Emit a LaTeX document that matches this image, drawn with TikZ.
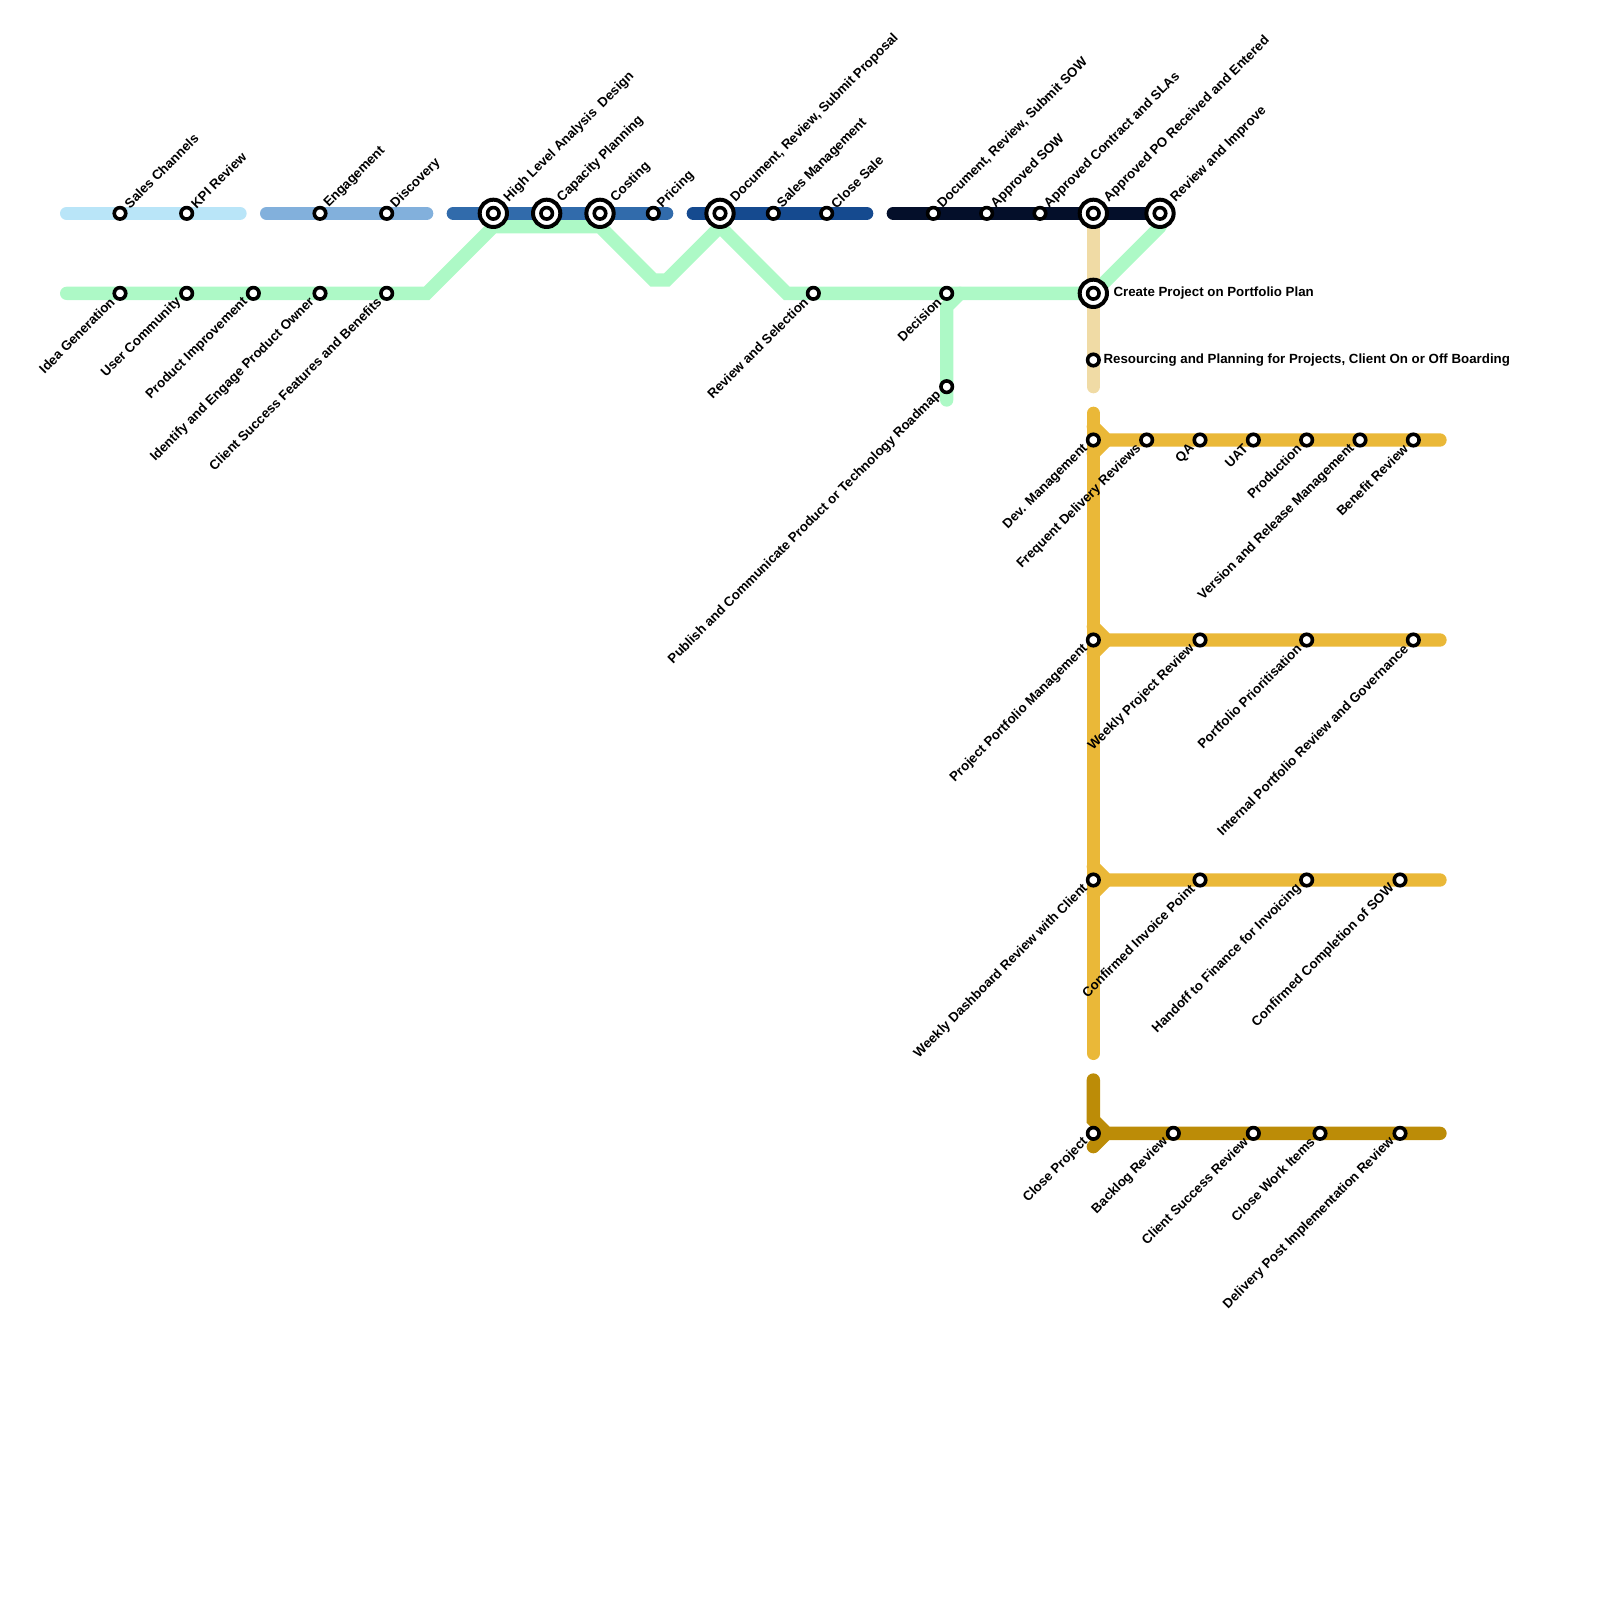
\documentclass[tikz,border=0pt]{standalone}
\usepackage{fontspec}
\setmainfont{Liberation Sans}
\definecolor{SkyLine}{HTML}{B9E5F8}
\definecolor{SteelLine}{HTML}{82B0DC}
\definecolor{MidBlue}{HTML}{316BAB}
\definecolor{DeepBlue}{HTML}{154A8F}
\definecolor{NightLine}{HTML}{040F2A}
\definecolor{MintLine}{HTML}{ADF9C6}
\definecolor{SandLine}{HTML}{F0DBA5}
\definecolor{GoldLine}{HTML}{EAB838}
\definecolor{OchreLine}{HTML}{BC8C07}
\begin{document}
\begin{tikzpicture}[x=13.3333pt,y=-13.3333pt,line join=miter,font=\fontsize{13.3}{15}\selectfont\bfseries]
\tikzstyle{track}=[line width=13.3333pt,line cap=round]
\tikzstyle{stop}=[circle,draw=black,fill=white,line width=3.6pt,inner sep=0pt,minimum size=11.5pt]
\tikzstyle{hub}=[circle,draw=black,fill=white,line width=4pt,inner sep=0pt,minimum size=27.3pt]
\tikzstyle{upl}=[inner sep=0pt,anchor=west,xshift=6.5pt,yshift=7.5pt,rotate=45]
\tikzstyle{hubl}=[inner sep=0pt,anchor=west,xshift=13pt,yshift=13.5pt,rotate=45]
\tikzstyle{downl}=[inner sep=0pt,anchor=east,xshift=-7.5pt,yshift=-6.5pt,rotate=45]
\useasboundingbox (0,0) rectangle (120,120);
% line ends and bends
\coordinate (s0) at (5,16); \coordinate (s1) at (18,16);
\coordinate (t0) at (20,16); \coordinate (t1) at (32,16);
\coordinate (m0) at (34,16); \coordinate (m1) at (50,16);
\coordinate (d0) at (52,16); \coordinate (d1) at (65,16);
\coordinate (n0) at (67,16); \coordinate (n1) at (87,16);
\coordinate (g0) at (5,22); \coordinate (g1) at (32,22);
\coordinate (g2) at (37,17); \coordinate (g3) at (45,17);
\coordinate (g4) at (49,21); \coordinate (g5) at (50,21);
\coordinate (g6) at (54,17); \coordinate (g7) at (59,22);
\coordinate (g8) at (82,22); \coordinate (g9) at (87,17);
\coordinate (b0) at (72,22); \coordinate (b1) at (71,23); \coordinate (b2) at (71,30);
\coordinate (a0) at (82,16); \coordinate (a1) at (82,29);
\coordinate (c0) at (82,31); \coordinate (c1) at (82,79);
\coordinate (r0) at (82,32); \coordinate (r1) at (83,33); \coordinate (r2) at (108,33); \coordinate (r3) at (82,34);
\coordinate (p0) at (82,47); \coordinate (p1) at (83,48); \coordinate (p2) at (108,48); \coordinate (p3) at (82,49);
\coordinate (w0) at (82,65); \coordinate (w1) at (83,66); \coordinate (w2) at (108,66); \coordinate (w3) at (82,67);
\coordinate (o0) at (82,81); \coordinate (o1) at (82,84); \coordinate (o2) at (83,85); \coordinate (o3) at (108,85); \coordinate (o4) at (82,86);
% lines
\draw[track,SkyLine] (s0)--(s1);
\draw[track,SteelLine] (t0)--(t1);
\draw[track,MidBlue] (m0)--(m1);
\draw[track,DeepBlue] (d0)--(d1);
\draw[track,MintLine] (g0)--(g1)--(g2)--(g3)--(g4)--(g5)--(g6)--(g7)--(g8)--(g9);
\draw[track,MintLine] (b0)--(b1)--(b2);
\draw[track,SandLine] (a0)--(a1);
\draw[track,NightLine] (n0)--(n1);
\draw[track,GoldLine] (c0)--(c1);
\draw[track,GoldLine] (r0)--(r1)--(r2);
\draw[track,GoldLine] (r3)--(r1);
\draw[track,GoldLine] (p0)--(p1)--(p2);
\draw[track,GoldLine] (p3)--(p1);
\draw[track,GoldLine] (w0)--(w1)--(w2);
\draw[track,GoldLine] (w3)--(w1);
\draw[track,OchreLine] (o0)--(o1)--(o2)--(o3);
\draw[track,OchreLine] (o4)--(o2);
% top row
\node[stop] (sales) at (9,16) {};
\node[upl] (lsales) at (sales) {Sales Channels};
\node[stop] (kpi) at (14,16) {};
\node[upl] (lkpi) at (kpi) {KPI Review};
\node[stop] (engage) at (24,16) {};
\node[upl] (lengage) at (engage) {Engagement};
\node[stop] (discov) at (29,16) {};
\node[upl] (ldiscov) at (discov) {Discovery};
\node[hub] (design) at (37,16) {};
\node[stop] (design1) at (design) {};
\node[hubl] (ldesign) at (design) {High Level Analysis~ Design};
\node[hub] (capac) at (41,16) {};
\node[stop] (capac1) at (capac) {};
\node[hubl] (lcapac) at (capac) {Capacity Planning};
\node[hub] (cost) at (45,16) {};
\node[stop] (cost1) at (cost) {};
\node[hubl] (lcost) at (cost) {Costing};
\node[stop] (price) at (49,16) {};
\node[upl] (lprice) at (price) {Pricing};
\node[hub] (propos) at (54,16) {};
\node[stop] (propos1) at (propos) {};
\node[hubl] (lpropos) at (propos) {Document, Review, Submit Proposal};
\node[stop] (smgmt) at (58,16) {};
\node[upl] (lsmgmt) at (smgmt) {Sales Management};
\node[stop] (close) at (62,16) {};
\node[upl] (lclose) at (close) {Close Sale};
\node[stop] (sow) at (70,16) {};
\node[upl] (lsow) at (sow) {Document, Review, Submit SOW};
\node[stop] (apsow) at (74,16) {};
\node[upl] (lapsow) at (apsow) {Approved SOW};
\node[stop] (sla) at (78,16) {};
\node[upl] (lsla) at (sla) {Approved Contract and SLAs};
\node[hub] (po) at (82,16) {};
\node[stop] (po1) at (po) {};
\node[hubl] (lpo) at (po) {Approved PO Received and Entered};
\node[hub] (improve) at (87,16) {};
\node[stop] (improve1) at (improve) {};
\node[hubl] (limprove) at (improve) {Review and Improve};
% green row
\node[stop] (idea) at (9,22) {};
\node[downl] (lidea) at (idea) {Idea Generation};
\node[stop] (user) at (14,22) {};
\node[downl] (luser) at (user) {User Community};
\node[stop] (prodi) at (19,22) {};
\node[downl] (lprodi) at (prodi) {Product Improvement};
\node[stop] (owner) at (24,22) {};
\node[downl] (lowner) at (owner) {Identify and Engage Product Owner};
\node[stop] (client) at (29,22) {};
\node[downl] (lclient) at (client) {Client Success Features and Benefits};
\node[stop] (select) at (61,22) {};
\node[downl] (lselect) at (select) {Review and Selection};
\node[stop] (decide) at (71,22) {};
\node[downl] (ldecide) at (decide) {Decision};
\node[stop] (roadmap) at (71,29) {};
\node[downl] (lroadmap) at (roadmap) {Publish and Communicate Product or Technology Roadmap};
\node[hub] (create) at (82,22) {};
\node[stop] (create1) at (create) {};
\node[inner sep=0pt,anchor=west,xshift=20pt,yshift=0pt] (lcreate) at (create) {Create Project on Portfolio Plan};
\node[stop] (resrc) at (82,27) {};
\node[inner sep=0pt,anchor=west,xshift=10pt,yshift=0pt] (lresrc) at (resrc) {Resourcing and Planning for Projects, Client On or Off Boarding};
% delivery
\node[stop] (dev) at (82,33) {};
\node[downl] (ldev) at (dev) {Dev. Management};
\node[stop] (freq) at (86,33) {};
\node[downl] (lfreq) at (freq) {Frequent Delivery Reviews};
\node[stop] (qa) at (90,33) {};
\node[downl] (lqa) at (qa) {QA};
\node[stop] (uat) at (94,33) {};
\node[downl] (luat) at (uat) {UAT};
\node[stop] (prod) at (98,33) {};
\node[downl] (lprod) at (prod) {Production};
\node[stop] (vers) at (102,33) {};
\node[downl] (lvers) at (vers) {Version and Release Management};
\node[stop] (bene) at (106,33) {};
\node[downl] (lbene) at (bene) {Benefit Review};
% portfolio
\node[stop] (port) at (82,48) {};
\node[downl] (lport) at (port) {Project Portfolio Management};
\node[stop] (weekly) at (90,48) {};
\node[downl] (lweekly) at (weekly) {Weekly Project Review};
\node[stop] (prio) at (98,48) {};
\node[downl] (lprio) at (prio) {Portfolio Prioritisation};
\node[stop] (govern) at (106,48) {};
\node[downl] (lgovern) at (govern) {Internal Portfolio Review and Governance};
% invoicing
\node[stop] (dash) at (82,66) {};
\node[downl] (ldash) at (dash) {Weekly Dashboard Review with Client};
\node[stop] (invoice) at (90,66) {};
\node[downl] (linvoice) at (invoice) {Confirmed Invoice Point};
\node[stop] (hand) at (98,66) {};
\node[downl] (lhand) at (hand) {Handoff to Finance for Invoicing};
\node[stop] (compl) at (105,66) {};
\node[downl] (lcompl) at (compl) {Confirmed Completion of SOW};
% closing
\node[stop] (cproj) at (82,85) {};
\node[downl] (lcproj) at (cproj) {Close Project};
\node[stop] (backl) at (88,85) {};
\node[downl] (lbackl) at (backl) {Backlog Review};
\node[stop] (csr) at (94,85) {};
\node[downl] (lcsr) at (csr) {Client Success Review};
\node[stop] (items) at (99,85) {};
\node[downl] (litems) at (items) {Close Work Items};
\node[stop] (post) at (105,85) {};
\node[downl] (lpost) at (post) {Delivery Post Implementation Review};
\end{tikzpicture}
\end{document}
